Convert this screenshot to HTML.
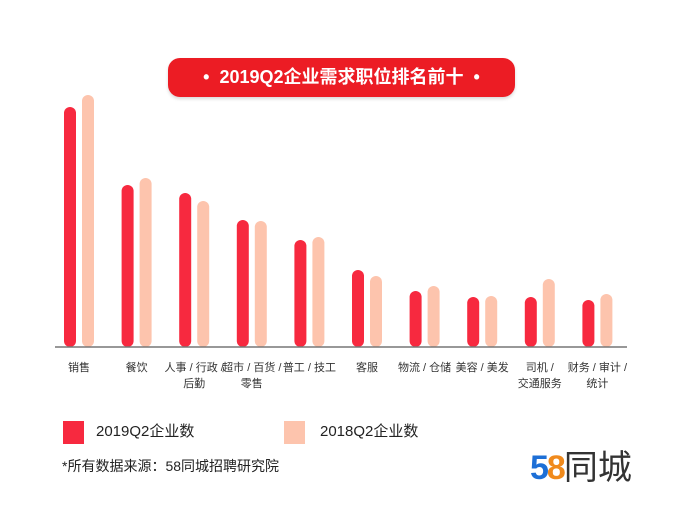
<!DOCTYPE html>
<html><head><meta charset="utf-8"><style>
body{margin:0;width:692px;height:530px;background:#fff;overflow:hidden;font-family:"Liberation Sans","Noto Sans CJK SC",sans-serif;position:relative}
.abs{position:absolute}
</style></head><body>
<div class="abs" style="left:168px;top:58px;width:347px;height:39px;background:#ec1c24;border-radius:12px;color:#fff;font-size:18px;font-weight:bold;line-height:39px;text-align:center;box-shadow:0 2px 3px rgba(0,0,0,0.15)">•&nbsp; 2019Q2企业需求职位排名前十 &nbsp;•</div>
<svg class="abs" style="left:0;top:0" width="692" height="400" id="chart"></svg>
<div class="abs" style="left:63px;top:421px;width:21px;height:23px;background:#f7293f"></div>
<div class="abs" style="left:96px;top:420px;font-size:15px;color:#222">2019Q2企业数</div>
<div class="abs" style="left:284px;top:421px;width:21px;height:23px;background:#fdc4ad"></div>
<div class="abs" style="left:320px;top:420px;font-size:15px;color:#222">2018Q2企业数</div>
<div class="abs" style="left:62px;top:456px;font-size:14px;color:#222">*所有数据来源：58同城招聘研究院</div>
<div class="abs" style="left:530px;top:440px;font-size:34px;font-weight:bold;letter-spacing:-2px"><span style="color:#1d6fd6">5</span><span style="color:#f08a1c">8</span><span style="color:#333;font-weight:normal;letter-spacing:0">同城</span></div>
<script>
const categories=[["销售"],["餐饮"],["人事 / 行政 /","后勤"],["超市 / 百货 /","零售"],["普工 / 技工"],["客服"],["物流 / 仓储"],["美容 / 美发"],["司机 /","交通服务"],["财务 / 审计 /","统计"]];
const series2019=[240,162,154,127,107,77,56,50,50,47];
const series2018=[252,169,146,126,110,71,61,51,68,53];
const svg=document.getElementById('chart');
const NS='http://www.w3.org/2000/svg';
const base=347,x0=70,step=57.6,bw=12;
const y=v=>base-v;
function bar(x,v,c,name){const r=document.createElementNS(NS,'rect');r.setAttribute('x',x-bw/2);r.setAttribute('y',y(v));r.setAttribute('width',bw);r.setAttribute('height',v);r.setAttribute('rx',6);r.setAttribute('fill',c);


svg.appendChild(r);}
categories.forEach((c,i)=>{const cx=x0+i*step;
bar(cx,series2019[i],'#f7293f','bar-2019-'+i);
bar(cx+18,series2018[i],'#fdc4ad','bar-2018-'+i);
c.forEach((t,j)=>{const tx=document.createElementNS(NS,'text');tx.setAttribute('x',cx+9);tx.setAttribute('y',371+j*16);tx.setAttribute('text-anchor','middle');tx.setAttribute('font-size','11');tx.setAttribute('fill','#333');tx.setAttribute('xml:space','preserve');tx.textContent=t;


svg.appendChild(tx);});});
const l=document.createElementNS(NS,'line');l.setAttribute('x1',55);l.setAttribute('x2',627);l.setAttribute('y1',base);l.setAttribute('y2',base);l.setAttribute('stroke','#777');l.setAttribute('stroke-width','1.5');


svg.appendChild(l);
</script>
</body></html>
